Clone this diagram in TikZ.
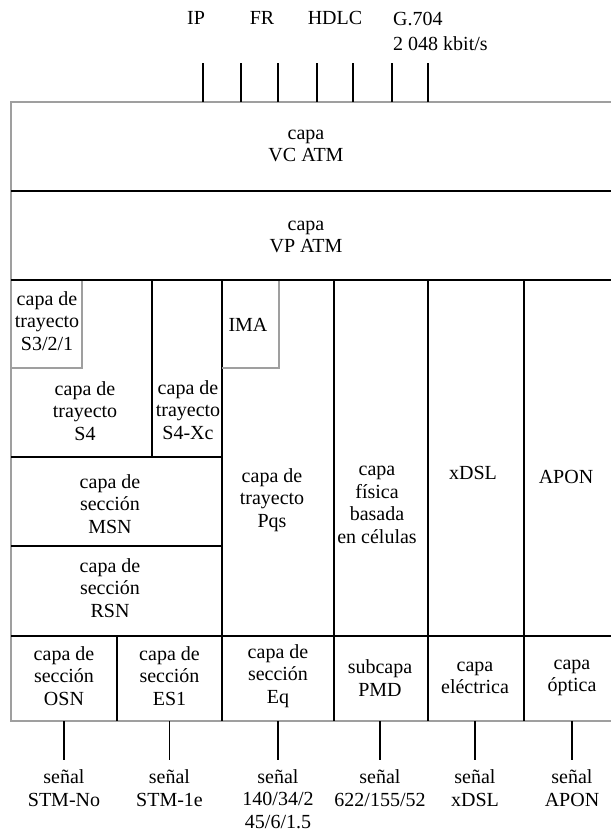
\documentclass[tikz,border=0pt]{standalone}
\usepackage{fontspec}
\setmainfont{Liberation Serif}
\begin{document}
\begin{tikzpicture}[x=1pt,y=-1pt,
  lbl/.style={align=center,inner sep=0pt,font=\fontsize{20}{22.5}\selectfont},
  ln/.style={black,line width=1.2pt},
  gln/.style={gray!75,line width=1.6pt},
  tick/.style={black,line width=1.1pt}]
\useasboundingbox (0,0) rectangle (611,831);
% outer frame
\draw[gln] (614,102) -- (11,102) -- (11,721) -- (614,721);
% horizontal dividers
\draw[ln] (11,191) -- (614,191);
\draw[ln] (11,280) -- (614,280);
\draw[ln] (11,457) -- (222,457);
\draw[ln] (11,546) -- (222,546);
\draw[ln] (11,636) -- (614,636);
% vertical dividers
\draw[ln] (152,280) -- (152,457);
\draw[ln] (222,280) -- (222,721);
\draw[ln] (334,280) -- (334,721);
\draw[ln] (428,280) -- (428,721);
\draw[ln] (524,280) -- (524,721);
\draw[ln] (117,636) -- (117,721);
% grey inner boxes
\draw[gln] (11,368) -- (82,368) -- (82,281);
\draw[gln] (222,368) -- (279,368) -- (279,281);
% top labels
\node[lbl] (ip) at (196,18) {IP};
\node[lbl] (fr) at (262,18) {FR};
\node[lbl] (hdlc) at (335,18) {HDLC};
\node[lbl,align=left,anchor=west,font=\fontsize{20}{25}\selectfont] (g704) at (393,31) {G.704\\2 048 kbit/s};
% top ticks
\foreach \x [count=\i] in {203,241,278,317,353,392,428}{
  \coordinate (tt\i) at (\x,63);
  \coordinate (tb\i) at (\x,102);
  \draw[tick] (tt\i) -- (tb\i);
}
% layer texts
\node[lbl] (vc) at (306,146) {capa\\VC ATM};
\node[lbl] (vp) at (306,237) {capa\\VP ATM};
\node[lbl] (s321) at (47,321) {capa de\\trayecto\\S3/2/1};
\node[lbl] (s4) at (85,411) {capa de\\trayecto\\S4};
\node[lbl] (s4xc) at (188,410) {capa de\\trayecto\\S4-Xc};
\node[lbl] (ima) at (248,325) {IMA};
\node[lbl] (msn) at (110,504) {capa de\\secci\'on\\MSN};
\node[lbl] (rsn) at (110,588) {capa de\\secci\'on\\RSN};
\node[lbl] (pqs) at (272,500) {capa de\\trayecto\\Pqs};
\node[lbl] (fis) at (377,505) {capa\\f\'isica\\basada\\en c\'elulas};
\node[lbl] (xdsl) at (473,473) {xDSL};
\node[lbl] (apon) at (566,477) {APON};
\node[lbl] (osn) at (64,676) {capa de\\secci\'on\\OSN};
\node[lbl] (es1) at (169.5,676) {capa de\\secci\'on\\ES1};
\node[lbl] (eq) at (278,676) {capa de\\secci\'on\\Eq};
\node[lbl] (pmd) at (380,678) {subcapa\\PMD};
\node[lbl] (elec) at (475,678) {capa\\el\'ectrica};
\node[lbl] (opt) at (572,678) {capa\\\'optica};
% bottom ticks and signals
\foreach \x/\n in {64/a,169.5/b,278/c,380/d,475/e,572/f}{
  \coordinate (bt\n) at (\x,721);
  \coordinate (bb\n) at (\x,760);
  \draw[tick] (bt\n) -- (bb\n);
}
\node[lbl] (sa) at (64,788) {se\~nal\\STM-No};
\node[lbl] (sb) at (169.5,788) {se\~nal\\STM-1e};
\node[lbl] (sc) at (278,799) {se\~nal\\140/34/2\\45/6/1.5};
\node[lbl] (sd) at (380,788) {se\~nal\\622/155/52};
\node[lbl] (se) at (475,788) {se\~nal\\xDSL};
\node[lbl] (sf) at (572,788) {se\~nal\\APON};
\end{tikzpicture}
\end{document}
